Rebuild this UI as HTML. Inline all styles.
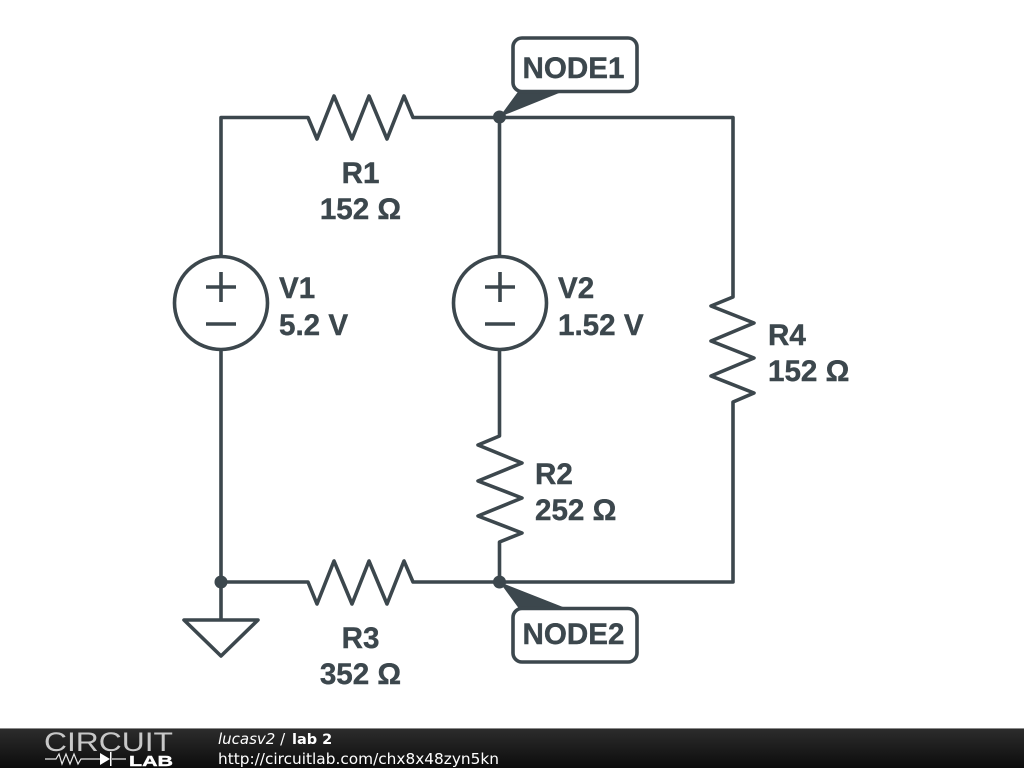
<!DOCTYPE html>
<html><head><meta charset="utf-8"><style>
html,body{margin:0;padding:0;background:#fff;width:1024px;height:768px;overflow:hidden}
svg{display:block}
.w{fill:none;stroke:#3c474d;stroke-width:3.6;stroke-linejoin:round}
.t{font-family:"Liberation Sans",sans-serif;font-weight:bold;font-size:29.6px;fill:#3c474d;stroke:#3c474d;stroke-width:.4}
.f{font-family:"DejaVu Sans",sans-serif;font-size:15px;fill:#fff}
</style></head><body>
<svg width="1024" height="768" viewBox="0 0 1024 768" xmlns="http://www.w3.org/2000/svg">
<defs><linearGradient id="g" x1="0" y1="0" x2="0" y2="1"><stop offset="0" stop-color="#2c2c2c"/><stop offset="1" stop-color="#0c0c0c"/></linearGradient></defs>
<rect width="1024" height="768" fill="#fff"/>
<polyline class="w" points="221,256 221,117.500 308,117.500 317,139 334,96 352,139 369,96 387,139 404,96 413,117.500 733,117.500 733,297 711,306 754,323 711,341 754,358 711,376 754,393 733,402 733,582 413,582 404,561 387,604 369,561 352,604 334,561 317,604 308,582 221,582 221,350"/>
<polyline class="w" points="499.500,117 499.500,256"/>
<polyline class="w" points="499.500,350 499.500,436 478,445 522,463 478,481 522,498 478,516 522,533 499.500,542 499.500,582"/>
<circle class="w" cx="221" cy="303" r="46.500"/>
<path class="w" d="M206 287H236M221 272V302M206 324H236"/>
<circle class="w" cx="500" cy="303" r="46.500"/>
<path class="w" d="M485 287H515M500 272V302M485 324H515"/>
<polygon class="w" points="184,620 258,620 221,656"/>
<line class="w" x1="221" y1="582" x2="221" y2="620"/>
<circle cx="221" cy="582" r="6.500" fill="#3c474d"/>
<circle cx="499.500" cy="117" r="6.500" fill="#3c474d"/>
<circle cx="499.500" cy="582" r="6.500" fill="#3c474d"/>
<polygon points="499.500,117 520,89 569,89" fill="#3c474d"/>
<polygon points="499.500,582 520,610 570.500,610" fill="#3c474d"/>
<rect class="w" x="513" y="38" width="124" height="53.500" rx="9" style="fill:#fff"/>
<rect class="w" x="513" y="608.500" width="124" height="53.500" rx="9" style="fill:#fff"/>
<text class="t" x="573.500" y="78" text-anchor="middle">NODE1</text>
<text class="t" x="573.500" y="644" text-anchor="middle">NODE2</text>
<text class="t" x="360.500" y="183" text-anchor="middle">R1</text>
<text class="t" x="360.500" y="219" text-anchor="middle">152 Ω</text>
<text class="t" x="360.500" y="648" text-anchor="middle">R3</text>
<text class="t" x="360.500" y="684" text-anchor="middle">352 Ω</text>
<text class="t" x="279" y="298">V1</text>
<text class="t" x="279" y="335">5.2 V</text>
<text class="t" x="558" y="298">V2</text>
<text class="t" x="558" y="335">1.52 V</text>
<text class="t" x="768" y="345">R4</text>
<text class="t" x="768" y="381">152 Ω</text>
<text class="t" x="535" y="484">R2</text>
<text class="t" x="535" y="520">252 Ω</text>
<rect x="0" y="728" width="1024" height="1" fill="#8a8a8a"/>
<rect x="0" y="729" width="1024" height="39" fill="url(#g)"/>
<text x="44" y="751" textLength="129" lengthAdjust="spacingAndGlyphs" style="font-family:'Liberation Sans',sans-serif;font-size:27px;fill:#c8c8c8">CIRCUIT</text>
<path d="M45 759H56L59 754 62 764 66 754 70 764 74 754 78 764 81 759H100M112 759H126" fill="none" stroke="#e8e8e8" stroke-width="1.200"/>
<polygon points="100,753 110,759 100,765" fill="#fff"/>
<rect x="110" y="752" width="1.500" height="14" fill="#fff"/>
<text x="129" y="766" textLength="44" lengthAdjust="spacingAndGlyphs" style="font-family:'Liberation Sans',sans-serif;font-weight:bold;font-size:15px;fill:#fff;stroke:#fff;stroke-width:.4">LAB</text>
<text class="f" x="218" y="744"><tspan font-style="italic">lucasv2</tspan> /</text>
<text class="f" x="292" y="744" font-weight="bold" style="font-size:14.5px">lab 2</text>
<text class="f" x="218" y="764" textLength="281" lengthAdjust="spacingAndGlyphs">http://circuitlab.com/chx8x48zyn5kn</text>
</svg>
</body></html>
